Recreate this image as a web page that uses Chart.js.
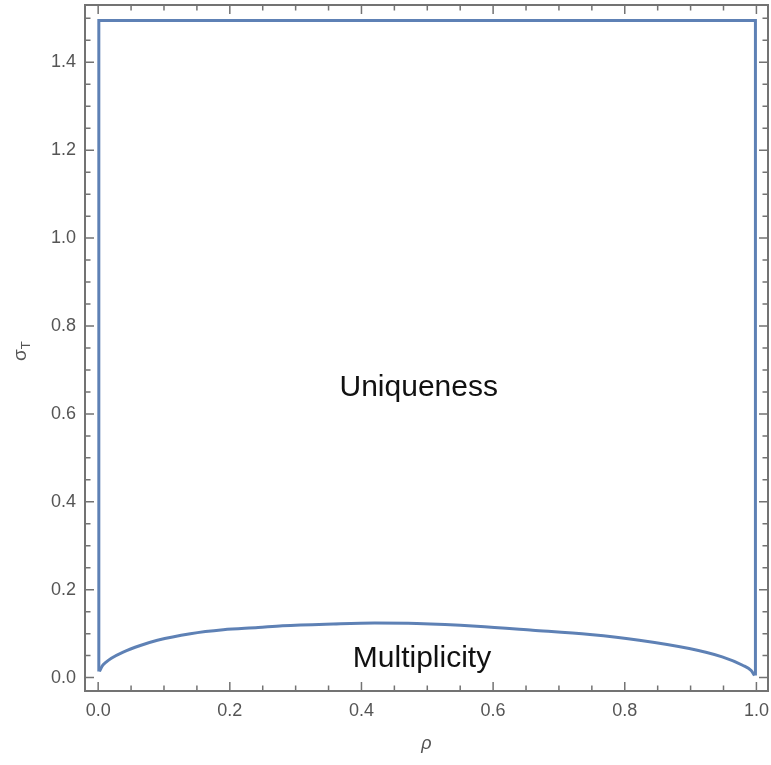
<!DOCTYPE html>
<html>
<head>
<meta charset="utf-8">
<script src="https://cdn.jsdelivr.net/npm/chart.js@4.4.1/dist/chart.umd.min.js"></script>
<style>
  html, body { margin: 0; padding: 0; background: #fff; }
  #wrap { width: 771px; height: 765px; }
</style>
</head>
<body>
<div id="wrap"><canvas id="chart" width="771" height="765"></canvas></div>
<script>
// --- DATA ---
// lower boundary curve (sigma_T vs rho)
const curveRho   = [0.002, 0.006, 0.012, 0.02, 0.038, 0.064, 0.09, 0.14, 0.19, 0.243, 0.28, 0.357, 0.42, 0.484, 0.575, 0.66, 0.747, 0.822, 0.898, 0.948, 0.979, 0.992, 0.997];
const curveSigma = [0.014, 0.026, 0.035, 0.044, 0.058, 0.073, 0.085, 0.100, 0.109, 0.114, 0.118, 0.122, 0.124, 0.123, 0.117, 0.108, 0.098, 0.085, 0.066, 0.047, 0.028, 0.016, 0.005];

// side walls + top of the region
const wallRho   = [0.001, 0.001, 0.9985, 0.9985];
const wallSigma = [0.014, 1.495, 1.495, 0.005];

// ticks
const xTicks = [0, 0.2, 0.4, 0.6, 0.8, 1.0];
const xTickLabels = ['0.0', '0.2', '0.4', '0.6', '0.8', '1.0'];
const yTicks = [0, 0.2, 0.4, 0.6, 0.8, 1.0, 1.2, 1.4];
const yTickLabels = ['0.0', '0.2', '0.4', '0.6', '0.8', '1.0', '1.2', '1.4'];

// region labels
const regionNames = ['Uniqueness', 'Multiplicity'];
const regionRho   = [0.487, 0.492];
const regionSigma = [0.659, 0.042];

// --- STYLE ---
const LINE = 'rgb(94,129,181)';
const FRAME = '#737373';
const LABEL = '#555555';
const FONT = '"Liberation Sans", Arial, Helvetica, sans-serif';

Chart.defaults.font.family = FONT;

const toPts = (xs, ys) => xs.map((v, i) => ({ x: v, y: ys[i] }));

// frame with inward ticks on all four sides, plus text labels
const framePlugin = {
    id: 'frame',
    afterDatasetsDraw(chart) {
        const { ctx, chartArea: a, scales: { x, y } } = chart;
        ctx.save();

        // region names
        ctx.fillStyle = '#111';
        ctx.font = '30px ' + FONT;
        ctx.textAlign = 'center';
        ctx.textBaseline = 'middle';
        regionNames.forEach((t, i) => {
            ctx.fillText(t, x.getPixelForValue(regionRho[i]), y.getPixelForValue(regionSigma[i]));
        });

        // frame
        ctx.strokeStyle = FRAME;
        ctx.lineWidth = 2;
        ctx.strokeRect(a.left, a.top, a.right - a.left, a.bottom - a.top);

        ctx.lineWidth = 1.5;
        const tick = (px, horiz, len) => {
            ctx.beginPath();
            if (horiz) {
                ctx.moveTo(a.left, px); ctx.lineTo(a.left + len, px);
                ctx.moveTo(a.right, px); ctx.lineTo(a.right - len, px);
            } else {
                ctx.moveTo(px, a.bottom); ctx.lineTo(px, a.bottom - len);
                ctx.moveTo(px, a.top); ctx.lineTo(px, a.top + len);
            }
            ctx.stroke();
        };
        for (let k = 0; k <= 30; k++) {
            const v = k * 0.05;
            tick(y.getPixelForValue(v), true, k % 4 === 0 ? 9 : 5.5);
            if (k <= 20) tick(x.getPixelForValue(v), false, k % 4 === 0 ? 9 : 5.5);
        }

        // axis titles
        ctx.fillStyle = LABEL;
        ctx.textAlign = 'left';
        ctx.textBaseline = 'alphabetic';
        ctx.save();
        ctx.translate(26, 361);
        ctx.rotate(-Math.PI / 2);
        ctx.font = '19px ' + FONT;
        ctx.fillText('σ', 0, 0);
        const w = ctx.measureText('σ').width;
        ctx.font = '13px ' + FONT;
        ctx.fillText('T', w, 4);
        ctx.restore();

        ctx.font = 'italic 18px ' + FONT;
        ctx.textAlign = 'center';
        ctx.textBaseline = 'middle';
        ctx.fillText('ρ', (a.left + a.right) / 2, 744);

        ctx.restore();
    }
};

new Chart(document.getElementById('chart'), {
    type: 'scatter',
    data: {
        datasets: [
            {
                data: toPts(wallRho, wallSigma),
                showLine: true,
                borderColor: LINE,
                borderWidth: 3,
                borderJoinStyle: 'miter',
                pointRadius: 0
            },
            {
                data: toPts(curveRho, curveSigma),
                showLine: true,
                borderColor: LINE,
                borderWidth: 3,
                cubicInterpolationMode: 'monotone',
                pointRadius: 0
            }
        ]
    },
    options: {
        responsive: false,
        devicePixelRatio: 1,
        animation: false,
        layout: { padding: { top: 5, right: 3, left: 0, bottom: 0 } },
        plugins: { legend: { display: false }, tooltip: { enabled: false } },
        scales: {
            x: {
                type: 'linear',
                min: -0.020,
                max: 1.0176,
                grid: { display: false, drawTicks: false },
                border: { display: false },
                afterBuildTicks: s => { s.ticks = xTicks.map(v => ({ value: v })); },
                afterFit: s => { s.height = 74; s.paddingLeft = 0; s.paddingRight = 0; },
                ticks: {
                    autoSkip: false,
                    maxRotation: 0,
                    padding: 9,
                    color: LABEL,
                    font: { size: 18 },
                    callback: (v) => xTickLabels[xTicks.findIndex(t => Math.abs(t - v) < 1e-6)]
                }
            },
            y: {
                type: 'linear',
                min: -0.0305,
                max: 1.5304,
                grid: { display: false, drawTicks: false },
                border: { display: false },
                afterBuildTicks: s => { s.ticks = yTicks.map(v => ({ value: v })); },
                afterFit: s => { s.width = 85; s.paddingTop = 0; s.paddingBottom = 0; },
                ticks: {
                    autoSkip: false,
                    padding: 9,
                    color: LABEL,
                    font: { size: 18 },
                    callback: (v) => yTickLabels[yTicks.findIndex(t => Math.abs(t - v) < 1e-6)]
                }
            }
        }
    },
    plugins: [framePlugin]
});
</script>
</body>
</html>
